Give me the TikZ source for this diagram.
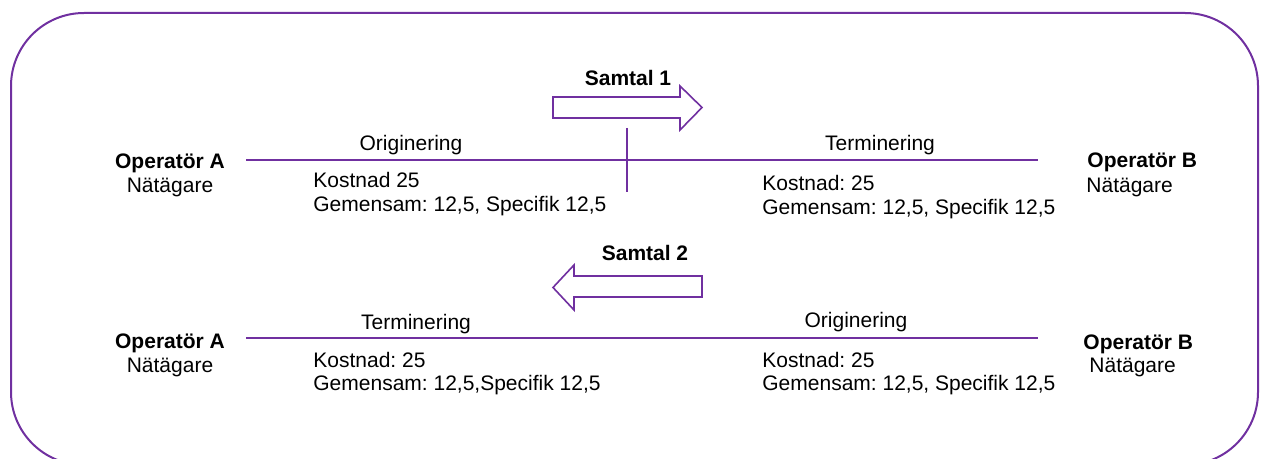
\documentclass[tikz,border=0pt]{standalone}
\usepackage{fontspec}
\setmainfont{Liberation Sans}
\frenchspacing
\definecolor{lineviolet}{HTML}{7030A0}
\begin{document}
\frenchspacing
\begin{tikzpicture}[x=0.5pt,y=-0.5pt,
  txt/.style={inner sep=0pt, font=\fontsize{10.5}{12}\selectfont},
  btxt/.style={inner sep=0pt, font=\fontsize{10.5}{12}\selectfont\bfseries},
  link/.style={draw=lineviolet, line width=1pt},
  frame/.style={draw=lineviolet, line width=1pt, rounded corners=36.5pt},
  blockarrow/.style={draw=lineviolet, line width=0.8pt, fill=white, line join=miter}]
\useasboundingbox (0,0) rectangle (1263,459);
\draw[frame] (11,13) rectangle (1258,465);

% row 1
\coordinate (l1a) at (246,160);
\coordinate (l1b) at (1038,160);
\draw[link] (l1a) -- (l1b);
\coordinate (t1) at (627,128);
\coordinate (t2) at (627,192);
\draw[link] (t1) -- (t2);
\draw[blockarrow] (553,97) -- (680,97) -- (680,86) -- (702,107.5) -- (680,130) -- (680,118) -- (553,118) -- cycle;
\node[btxt, anchor=base] (s1) at (628,85.5) {Samtal 1};

\node[btxt, anchor=base] (oa1) at (170,168.5) {Operatör A};
\node[txt, anchor=base] (na1) at (170,192.5) {Nätägare};
\node[txt, anchor=base] (or1) at (411,150.5) {Originering};
\node[txt, anchor=base west] (k1) at (313,187.5) {Kostnad 25};
\node[txt, anchor=base west] (g1) at (313,211.5) {Gemensam: 12,5, Specifik 12,5};
\node[txt, anchor=base] (te1) at (880,150.5) {Terminering};
\node[txt, anchor=base west] (k2) at (762,190.5) {Kostnad: 25};
\node[txt, anchor=base west] (g2) at (762,214.5) {Gemensam: 12,5, Specifik 12,5};
\node[btxt, anchor=base west] (ob1) at (1087,167.5) {Operatör B};
\node[txt, anchor=base west] (nb1) at (1086,192.5) {Nätägare};

% row 2
\coordinate (l2a) at (246,338);
\coordinate (l2b) at (1038,338);
\draw[link] (l2a) -- (l2b);
\draw[blockarrow] (702,276) -- (574,276) -- (574,265) -- (553,287.5) -- (574,310) -- (574,297) -- (702,297) -- cycle;
\node[btxt, anchor=base] (s2) at (645,260.5) {Samtal 2};

\node[btxt, anchor=base] (oa2) at (170,348.5) {Operatör A};
\node[txt, anchor=base] (na2) at (170,372.5) {Nätägare};
\node[txt, anchor=base] (te2) at (416,329.5) {Terminering};
\node[txt, anchor=base west] (k3) at (313,367.5) {Kostnad: 25};
\node[txt, anchor=base west] (g3) at (313,390.5) {Gemensam: 12,5,Specifik 12,5};
\node[txt, anchor=base] (or2) at (856,327.5) {Originering};
\node[txt, anchor=base west] (k4) at (762,367.5) {Kostnad: 25};
\node[txt, anchor=base west] (g4) at (762,390.5) {Gemensam: 12,5, Specifik 12,5};
\node[btxt, anchor=base west] (ob2) at (1083,349.5) {Operatör B};
\node[txt, anchor=base west] (nb2) at (1089,372.5) {Nätägare};
\end{tikzpicture}
\end{document}
